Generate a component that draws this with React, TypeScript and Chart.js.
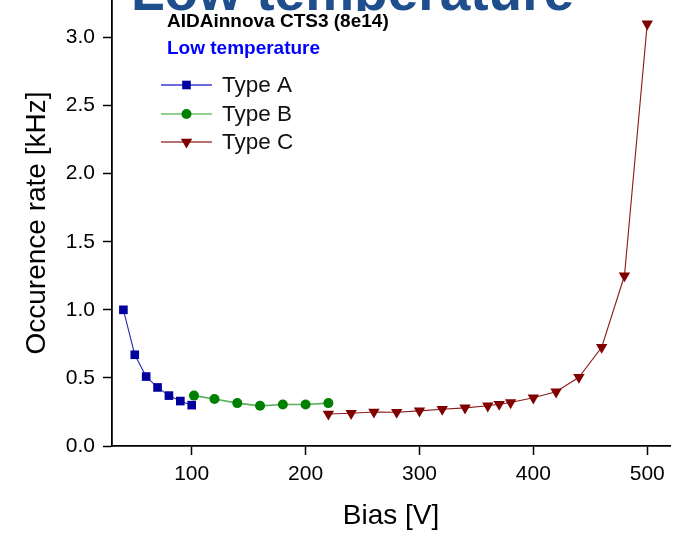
import React, { useEffect, useRef } from 'react';
import { Chart, registerables } from 'chart.js';

Chart.register(...registerables);

// ---- data ----
const typeAX = [40, 50, 60, 70, 80, 90, 100];
const typeAY = [1.0, 0.67, 0.51, 0.43, 0.37, 0.33, 0.3];
const typeBX = [102, 120, 140, 160, 180, 200, 220];
const typeBY = [0.37, 0.345, 0.315, 0.295, 0.305, 0.305, 0.315];
const typeCX = [220, 240, 260, 280, 300, 320, 340, 360, 370, 380, 400, 420, 440, 460, 480, 500];
const typeCY = [0.235, 0.24, 0.25, 0.248, 0.258, 0.27, 0.28, 0.295, 0.307, 0.319, 0.354, 0.398, 0.505, 0.725, 1.25, 3.1];
const seriesNames = ['Type A', 'Type B', 'Type C'];
const xTitle = 'Bias [V]';
const yTitle = 'Occurence rate [kHz]';
const headline = 'Low temperature';
const sampleLabel = 'AIDAinnova CTS3 (8e14)';
const conditionLabel = 'Low temperature';

const FONT = '"Liberation Sans", Arial, sans-serif';

const isMajorX = (v: number) => Math.abs(v / 100 - Math.round(v / 100)) < 1e-6;
const isMajorY = (v: number) => Math.abs(v * 2 - Math.round(v * 2)) < 1e-6;

const styles = [
  { marker: '#00009c', line: '#2a2ab8', legendLine: '#3a3ad0', style: 'rect', radius: 6.1, rot: 0 },
  { marker: '#008000', line: '#5cb05c', legendLine: '#6cc06c', style: 'circle', radius: 5, rot: 0 },
  { marker: '#800000', line: '#8b1a1a', legendLine: '#a04040', style: 'triangle', radius: 6.6, rot: 180 },
];

function drawMarker(ctx: CanvasRenderingContext2D, style: string, x: number, y: number, r: number, color: string) {
  ctx.save();
  ctx.fillStyle = color;
  ctx.beginPath();
  if (style === 'rect') {
    const s = r * Math.SQRT1_2;
    ctx.rect(x - s, y - s, 2 * s, 2 * s);
  } else if (style === 'circle') {
    ctx.arc(x, y, r, 0, Math.PI * 2);
  } else {
    ctx.moveTo(x, y + r);
    ctx.lineTo(x - r * Math.sqrt(3) / 2, y - r / 2);
    ctx.lineTo(x + r * Math.sqrt(3) / 2, y - r / 2);
    ctx.closePath();
  }
  ctx.fill();
  ctx.restore();
}

const decorPlugin = {
  id: 'decor',
  afterDraw(chart: any) {
    const ctx: CanvasRenderingContext2D = chart.ctx;
    const xs = chart.scales.x;
    const ys = chart.scales.y;
    ctx.save();
    // minor ticks
    ctx.strokeStyle = '#000';
    ctx.lineWidth = 1.5;
    xs.ticks.forEach((t: any) => {
      if (!isMajorX(t.value)) {
        const px = Math.round(xs.getPixelForValue(t.value)) + 0.5;
        ctx.beginPath();
        ctx.moveTo(px, chart.chartArea.bottom);
        ctx.lineTo(px, chart.chartArea.bottom + 5);
        ctx.stroke();
      }
    });
    ys.ticks.forEach((t: any) => {
      if (!isMajorY(t.value)) {
        const py = Math.round(ys.getPixelForValue(t.value)) + 0.5;
        ctx.beginPath();
        ctx.moveTo(chart.chartArea.left - 4, py);
        ctx.lineTo(chart.chartArea.left, py);
        ctx.stroke();
      }
    });

    // legend
    const legendY = [85, 114, 142];
    ctx.font = `22.5px ${FONT}`;
    ctx.textBaseline = 'middle';
    ctx.textAlign = 'left';
    seriesNames.forEach((name, i) => {
      const st = styles[i];
      ctx.strokeStyle = st.legendLine;
      ctx.lineWidth = 1.5;
      ctx.beginPath();
      ctx.moveTo(161, legendY[i]);
      ctx.lineTo(212, legendY[i]);
      ctx.stroke();
      drawMarker(ctx, st.style, 186.5, legendY[i], st.radius, st.marker);
      ctx.fillStyle = '#111';
      ctx.fillText(name, 222, legendY[i] + 1);
    });

    // annotations
    ctx.textBaseline = 'alphabetic';
    ctx.font = `bold 19px ${FONT}`;
    ctx.fillStyle = '#000';
    ctx.fillText(sampleLabel, 167, 27);
    ctx.fillStyle = '#0000ff';
    ctx.fillText(conditionLabel, 167, 54);

    // big headline, mostly cut off above the picture
    ctx.save();
    ctx.beginPath();
    ctx.rect(0, 0, chart.width, 11);
    ctx.clip();
    ctx.font = `bold 55px ${FONT}`;
    ctx.fillStyle = '#1f4e8c';
    ctx.fillText(headline, 131, 9.5);
    ctx.restore();

    ctx.restore();
  },
};

export default function App() {
  const ref = useRef<HTMLCanvasElement | null>(null);
  useEffect(() => {
    if (!ref.current) return;
    const mk = (xv: number[], yv: number[]) => xv.map((x, i) => ({ x, y: yv[i] }));
    const all = [mk(typeAX, typeAY), mk(typeBX, typeBY), mk(typeCX, typeCY)];
    const chart = new Chart(ref.current, {
      type: 'line',
      data: {
        datasets: all.map((d, i) => ({
          label: seriesNames[i],
          data: d,
          borderColor: styles[i].line,
          borderWidth: i === 1 ? 1.6 : 1.1,
          backgroundColor: styles[i].marker,
          pointBackgroundColor: styles[i].marker,
          pointBorderColor: styles[i].marker,
          pointBorderWidth: 0,
          pointStyle: styles[i].style as any,
          pointRadius: styles[i].radius,
          pointRotation: styles[i].rot,
          tension: 0,
          fill: false,
          clip: false,
        })),
      },
      options: {
        responsive: false,
        animation: false,
        events: [],
        layout: { autoPadding: false, padding: { left: 0, right: 13, top: 0, bottom: 0 } },
        plugins: { legend: { display: false }, tooltip: { enabled: false }, title: { display: false } },
        scales: {
          x: {
            type: 'linear',
            min: 30,
            max: 520,
            afterFit: (s: any) => { s.height = 88; s.paddingLeft = 0; s.paddingRight = 0; },
            ticks: {
              stepSize: 50,
              includeBounds: false,
              autoSkip: false,
              maxRotation: 0,
              padding: 7,
              color: '#000',
              font: { family: FONT, size: 21 },
              callback: (v: any) => (isMajorX(Number(v)) ? String(v) : null),
            },
            grid: {
              display: true,
              drawOnChartArea: false,
              drawTicks: true,
              tickLength: 9,
              tickWidth: 1.5,
              tickColor: (c: any) => (c.tick && isMajorX(c.tick.value) ? '#000' : 'rgba(0,0,0,0)'),
            },
            border: { display: true, color: '#000', width: 1.8 },
            title: { display: true, text: xTitle, color: '#000', font: { family: FONT, size: 28 }, padding: { top: 0, bottom: 1 } },
          },
          y: {
            type: 'linear',
            min: 0,
            max: 3.275,
            afterFit: (s: any) => { s.width = 112; s.paddingTop = 0; s.paddingBottom = 0; },
            ticks: {
              stepSize: 0.25,
              includeBounds: false,
              autoSkip: false,
              padding: 8,
              color: '#000',
              font: { family: FONT, size: 21 },
              callback: (v: any) => (isMajorY(Number(v)) ? Number(v).toFixed(1) : null),
            },
            grid: {
              display: true,
              drawOnChartArea: false,
              drawTicks: true,
              tickLength: 9,
              tickWidth: 1.5,
              tickColor: (c: any) => (c.tick && isMajorY(c.tick.value) ? '#000' : 'rgba(0,0,0,0)'),
            },
            border: { display: true, color: '#000', width: 1.8 },
            title: { display: true, text: yTitle, color: '#000', font: { family: FONT, size: 28 }, padding: { top: 20, bottom: 0 } },
          },
        },
      },
      plugins: [decorPlugin],
    } as any);
    return () => chart.destroy();
  }, []);
  return (
    <div style={{ position: 'absolute', left: 0, top: 0, width: 683, height: 534, background: '#fff' }}>
      <canvas ref={ref} width={683} height={534} style={{ display: 'block', width: 683, height: 534 }} />
    </div>
  );
}
